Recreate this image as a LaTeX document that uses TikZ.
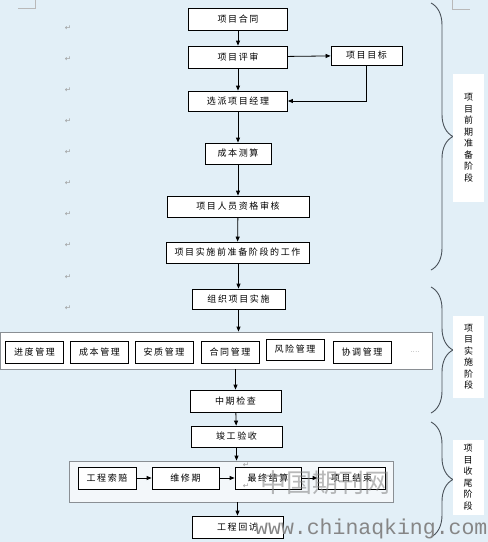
\documentclass[tikz,border=0pt]{standalone}
\usepackage{fontspec}
\usepackage{xcolor}
\usetikzlibrary{arrows.meta,decorations.pathreplacing}
\newfontfamily\cjk[LetterSpace=18]{Noto Sans CJK SC}
\newfontfamily\cjkside{Noto Sans CJK SC}
\newfontfamily\markfam{DejaVu Sans}
\newfontfamily\monofam{Liberation Mono}
\definecolor{paper}   {HTML}{E2EFF7}
\definecolor{framegray}{HTML}{8A8F94}
\definecolor{bracegray}{HTML}{4A525A}
\definecolor{softfill}{HTML}{F3F7FA}

\tikzset{
  box/.style={draw=black, line width=0.8pt, fill=white, inner sep=0pt,
              minimum height=21pt, font=\fontsize{9}{11}\selectfont\cjk},
  flow/.style={-{Triangle[length=5pt,width=4pt]}, line width=0.8pt},
  holder/.style={draw=framegray, line width=0.8pt, inner sep=0pt},
  stagebrace/.style={decorate, decoration={brace, amplitude=22pt},
                     draw=bracegray, line width=0.9pt},
  stagelab/.style={fill=white, minimum width=31pt, inner sep=0pt, align=center,
                   font=\fontsize{9}{11.5}\selectfont\cjkside},
  pmark/.style={text=gray!80, inner sep=0pt, font=\fontsize{7.5}{7.5}\selectfont\markfam},
}

\begin{document}
\begin{tikzpicture}[x=1pt, y=-1pt]
  \useasboundingbox (0,0) rectangle (488,542);
  \fill[paper] (0,0) rectangle (488,542);
  % page corner marks
  \draw[gray!55, line width=0.6pt] (18,8) -- (35,8) -- (35,0);
  \draw[gray!55, line width=0.6pt] (452,0) -- (452,9) -- (470,9);
  \foreach \y [count=\i] in {28,59,90,121,152,183,214,245,277,308}
    \node[pmark] (ret\i) at (68,\y) {↵};

  % preparation stage
  \node[box, minimum width=99pt, minimum height=22pt] (contract) at (238,19) {项目合同};
  \node[box, minimum width=99pt, minimum height=22pt] (review) at (238,57) {项目评审};
  \node[box, minimum width=71pt, minimum height=19pt] (goal) at (366.5,55.5) {项目目标};
  \node[box, minimum width=99pt, minimum height=20pt] (manager) at (238,101) {选派项目经理};
  \node[box, minimum width=66pt] (cost) at (238,153.5) {成本测算};
  \node[box, minimum width=142pt] (staff) at (238,206.5) {项目人员资格审核};
  \node[box, minimum width=143pt] (prework) at (237.5,252.5) {项目实施前准备阶段的工作};

  % implementation stage
  \node[box, minimum width=93pt, minimum height=20pt] (organize) at (238.5,299) {组织项目实施};
  \node[holder, fill=white, minimum width=432pt, minimum height=37pt] (ctrA) at (216,350.5) {};
  \foreach \x/\name/\txt in {34.5/sched/进度管理, 99.5/budget/成本管理, 164/safety/安质管理,
                             230/deal/合同管理, 362/coord/协调管理}
    \node[box, minimum width=58pt, minimum height=22pt] (\name) at (\x,352) {\txt};
  \node[box, minimum width=58pt] (risk) at (295,349.5) {风险管理};
  \node[text=gray, font=\fontsize{8}{8}\selectfont] (more) at (415,352) {....};
  \node[box, minimum width=91pt, minimum height=22pt] (midcheck) at (235.5,401) {中期检查};

  % closing stage
  \node[box, minimum width=91pt] (accept) at (236.5,436.5) {竣工验收};
  \node[holder, fill=softfill, minimum width=324pt, minimum height=41pt] (ctrB) at (231,481.5) {};
  \node[box, minimum width=58pt, minimum height=22pt] (claim) at (107,478) {工程索赔};
  \node[box, minimum width=67pt, minimum height=22pt] (warranty) at (185.5,478) {维修期};
  \node[box, minimum width=66pt, minimum height=22pt] (settle) at (268,478) {最终结算};
  \node[box, minimum width=67pt, minimum height=22pt] (close) at (351.5,478) {项目结束};
  \node[box, minimum width=91pt, minimum height=22pt] (revisit) at (237.5,527) {工程回访};
  \node[pmark] (ret11) at (246,465) {↵};
  \node[pmark] (ret12) at (246,486) {↵};

  % connectors
  \draw[flow] (contract) -- (review);
  \draw[flow] (review) -- (goal);
  \draw[flow] (goal.south) |- (manager.east);
  \draw[flow] (review) -- (manager);
  \draw[flow] (manager) -- (cost);
  \draw[flow] (cost) -- (staff);
  \draw[flow] (staff) -- (prework);
  \draw[flow] (prework.south -| organize.north) -- (organize);
  \draw[flow] (organize.south) -- (organize.south |- ctrA.north);
  \draw[flow] (midcheck.north |- ctrA.south) -- (midcheck.north);
  \draw[flow] (midcheck) -- (accept);
  \draw[flow] (accept.south) -- (accept.south |- ctrB.north);
  \draw[flow] (claim) -- (warranty);
  \draw[flow] (warranty) -- (settle);
  \draw[flow] (settle) -- (close);
  \draw[flow] (revisit.north |- ctrB.south) -- (revisit.north);

  % stage braces and labels
  \coordinate (b1top) at (431,3);   \coordinate (b1bot) at (431,270);
  \coordinate (b2top) at (431,287); \coordinate (b2bot) at (431,413);
  \coordinate (b3top) at (431,422); \coordinate (b3bot) at (431,537);
  \draw[stagebrace] (b1top) -- (b1bot);
  \draw[stagebrace] (b2top) -- (b2bot);
  \draw[stagebrace] (b3top) -- (b3bot);
  \node[stagelab, minimum height=128pt] (prep) at (468.5,138)
       {项\\目\\前\\期\\准\\备\\阶\\段};
  \node[stagelab, minimum height=82pt] (impl) at (468.5,357) {项\\目\\实\\施\\阶\\段};
  \node[stagelab, minimum height=75pt] (finish) at (468,477.5) {项\\目\\收\\尾\\阶\\段};

  % watermark
  \node[text=gray, text opacity=0.55, font=\fontsize{26}{26}\selectfont\cjkside]
       (wmcn) at (325,483) {中国期刊网};
  \node[text=gray!95, anchor=west, inner sep=0pt, font=\fontsize{21.5}{22}\selectfont\monofam]
       (wmurl) at (255,529) {www.chinaqking.com};
\end{tikzpicture}
\end{document}
